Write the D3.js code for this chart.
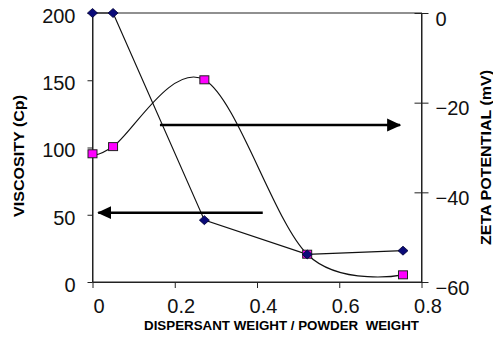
<!DOCTYPE html>
<html>
<head>
<meta charset="utf-8">
<script src="https://cdn.jsdelivr.net/npm/d3@7"></script>
<style>
  html, body { margin: 0; padding: 0; background: #fff; }
  svg { display: block; font-family: "Liberation Sans", Arial, sans-serif; }
</style>
</head>
<body>
<div id="dis"></div>
<script>
// data
var xValues = [0, 0.05, 0.272, 0.522, 0.755];
var viscosity = [200, 200, 46, 20.5, 23.3];
var zeta = [-31.4, -29.8, -14.9, -53.8, -58.4];

var xTicks = [0, 0.2, 0.4, 0.6, 0.8];
var viscTicks = [0, 50, 100, 150, 200];
var zetaTicks = [0, -20, -40, -60];

// annotation arrows: which axis they refer to, level, start and end on x
var arrowAxis = ["zeta", "visc"];
var arrowLevel = [-25, 51.5];
var arrowFrom = [0.164, 0.414];
var arrowTo = [0.748, 0.014];

var draw = function() {
    var width = 493, height = 345;
    var left = 92.5, right = 421.5, top = 13, bottom = 282;

    var svg = d3.select("#dis").append("svg")
        .attr("width", width)
        .attr("height", height);

    var x = d3.scaleLinear().domain([0, 0.8]).range([left, right]);
    var yV = d3.scaleLinear().domain([0, 200]).range([bottom, top]);
    var yZ = d3.scaleLinear().domain([-60, 0]).range([bottom, top]);

    svg.append("defs").append("marker")
        .attr("id", "head")
        .attr("markerUnits", "userSpaceOnUse")
        .attr("viewBox", "0 0 14 14")
        .attr("refX", 13)
        .attr("refY", 7)
        .attr("markerWidth", 14)
        .attr("markerHeight", 14)
        .attr("orient", "auto")
      .append("path")
        .attr("d", "M 0 0.5 L 14 7 L 0 13.5 Z")
        .attr("fill", "#000");

    // frame
    svg.append("rect")
        .attr("x", left).attr("y", top)
        .attr("width", right - left).attr("height", bottom - top)
        .attr("fill", "none")
        .attr("stroke", "#222")
        .attr("stroke-width", 1);

    var fs = 20;

    // left axis
    var gL = svg.append("g")
        .attr("transform", "translate(" + left + ",0)")
        .call(d3.axisLeft(yV).tickValues(viscTicks).tickSize(5).tickSizeOuter(0).tickPadding(12));
    gL.selectAll("text").attr("dy", "0.47em");

    // right axis
    var gR = svg.append("g")
        .attr("transform", "translate(" + right + ",0)")
        .call(d3.axisRight(yZ).tickValues(zetaTicks).tickSize(7).tickSizeOuter(0).tickPadding(7));
    gR.selectAll(".tick line").attr("x1", -7);
    gR.selectAll("text").attr("dy", "0.6em");

    // bottom axis
    var gB = svg.append("g")
        .attr("transform", "translate(0," + bottom + ")")
        .call(d3.axisBottom(x).tickValues(xTicks).tickSize(6).tickSizeOuter(0).tickPadding(11)
            .tickFormat(d3.format("")));
    gB.selectAll("text").attr("x", 6);

    [gL, gR, gB].forEach(function(g) {
        g.select(".domain").attr("stroke", "#222");
        g.selectAll(".tick line").attr("stroke", "#222");
        g.selectAll("text")
            .attr("font-size", fs)
            .attr("font-family", "Liberation Sans, Arial, sans-serif")
            .attr("fill", "#111");
    });

    // titles
    svg.append("text")
        .attr("transform", "translate(19,156) rotate(-90)")
        .attr("text-anchor", "middle")
        .attr("dominant-baseline", "central")
        .attr("font-size", 14)
        .attr("font-weight", "bold")
        .attr("textLength", 122)
        .attr("lengthAdjust", "spacingAndGlyphs")
        .text("VISCOSITY (Cp)");

    svg.append("text")
        .attr("transform", "translate(486,157.5) rotate(-90)")
        .attr("text-anchor", "middle")
        .attr("dominant-baseline", "central")
        .attr("font-size", 14)
        .attr("font-weight", "bold")
        .attr("textLength", 175)
        .attr("lengthAdjust", "spacingAndGlyphs")
        .text("ZETA POTENTIAL (mV)");

    svg.append("text")
        .attr("x", 281.5)
        .attr("y", 329.5)
        .attr("text-anchor", "middle")
        .attr("font-size", 13.5)
        .attr("font-weight", "bold")
        .attr("textLength", 275)
        .attr("lengthAdjust", "spacingAndGlyphs")
        .style("white-space", "pre")
        .text("DISPERSANT WEIGHT / POWDER  WEIGHT");

    // series
    var zetaPts = xValues.map((d, i) => [d, zeta[i]]);
    var viscPts = xValues.map((d, i) => [d, viscosity[i]]);

    svg.append("path")
        .datum(zetaPts)
        .attr("fill", "none")
        .attr("stroke", "#111")
        .attr("stroke-width", 1.2)
        .attr("d", d3.line().x(d => x(d[0])).y(d => yZ(d[1])).curve(d3.curveCardinal.tension(0)));

    svg.append("path")
        .datum(viscPts)
        .attr("fill", "none")
        .attr("stroke", "#111")
        .attr("stroke-width", 1.2)
        .attr("d", d3.line().x(d => x(d[0])).y(d => yV(d[1])));

    // arrows
    var arrows = arrowAxis.map((a, i) => ({ axis: a, level: arrowLevel[i], from: arrowFrom[i], to: arrowTo[i] }));
    svg.append("g")
        .selectAll("line")
        .data(arrows)
        .join("line")
        .attr("x1", d => x(d.from))
        .attr("x2", d => x(d.to))
        .attr("y1", d => (d.axis === "zeta" ? yZ : yV)(d.level))
        .attr("y2", d => (d.axis === "zeta" ? yZ : yV)(d.level))
        .attr("stroke", "#000")
        .attr("stroke-width", 2.5)
        .attr("marker-end", "url(#head)");

    // markers
    svg.append("g")
        .selectAll("rect")
        .data(zetaPts)
        .join("rect")
        .attr("x", d => x(d[0]) - 4.5)
        .attr("y", d => yZ(d[1]) - 4)
        .attr("width", 9)
        .attr("height", 8)
        .attr("fill", "#ff00ff")
        .attr("stroke", "#222")
        .attr("stroke-width", 1);

    svg.append("g")
        .selectAll("path")
        .data(viscPts)
        .join("path")
        .attr("transform", d => "translate(" + x(d[0]) + "," + yV(d[1]) + ")")
        .attr("d", "M -5 0 L 0 -4.5 L 5 0 L 0 4.5 Z")
        .attr("fill", "#0a0a78")
        .attr("stroke", "#000033")
        .attr("stroke-width", 0.8);
};

window.onload = draw;
</script>
</body>
</html>
